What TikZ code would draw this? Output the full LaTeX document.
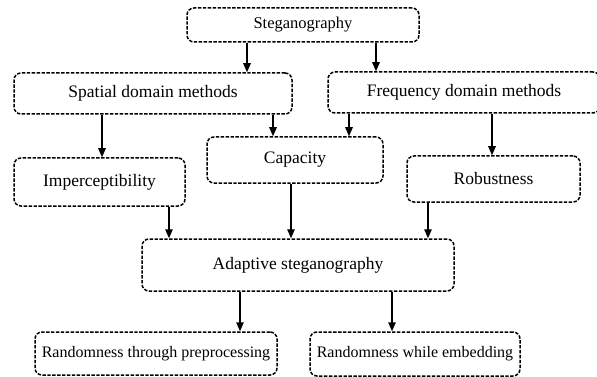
\documentclass[tikz,border=0pt]{standalone}
\usepackage{fontspec}
\setmainfont{Liberation Serif}
\usetikzlibrary{arrows.meta}
\tikzset{
  box/.style={draw=black, line width=1.5pt, dash pattern=on 3.4pt off 1.5pt,
    rounded corners=7pt, inner sep=0pt, align=center, font=\fontsize{17.5}{20}\selectfont},
  smallbox/.style={box, font=\fontsize{16}{19}\selectfont},
  arr/.style={line width=1.3pt, -{Triangle[length=9pt,width=7.5pt]}}
}
\begin{document}
\begin{tikzpicture}[x=1pt,y=-1pt]
\useasboundingbox (0,0) rectangle (597,377);
% boxes
\node[box, font=\fontsize{16.5}{19}\selectfont, minimum width=232pt, minimum height=34pt] (steg) at (303,25) {Steganography};
\node[box, minimum width=278pt, minimum height=41pt] (spatial) at (153,93.5) {Spatial domain methods};
\node[box, minimum width=272pt, minimum height=41pt] (freq) at (464,92.5) {Frequency domain methods};
\node[box, minimum width=171pt, minimum height=48pt] (imp) at (99.5,182) {Imperceptibility};
\node[box, minimum width=176pt, minimum height=46pt] (cap) at (295,160) {Capacity};
\node[box, minimum width=173pt, minimum height=46pt] (rob) at (493.5,179) {Robustness};
\node[box, minimum width=312pt, minimum height=52pt] (adap) at (298,265) {Adaptive steganography};
\node[smallbox, minimum width=242pt, minimum height=43pt] (r1) at (156,353.5) {Randomness through preprocessing};
\node[smallbox, minimum width=210pt, minimum height=44pt] (r2) at (415,354) {Randomness while embedding};
% connector x positions
\coordinate (xa) at (247,0);
\coordinate (xb) at (376,0);
\coordinate (xc) at (102,0);
\coordinate (xd) at (273,0);
\coordinate (xe) at (349,0);
\coordinate (xf) at (492,0);
\coordinate (xg) at (169,0);
\coordinate (xh) at (291,0);
\coordinate (xi) at (428,0);
\coordinate (xj) at (240,0);
\coordinate (xk) at (392,0);
% connectors
\draw[arr] (steg.south -| xa) -- (spatial.north -| xa);
\draw[arr] (steg.south -| xb) -- (freq.north -| xb);
\draw[arr] (spatial.south -| xc) -- (imp.north -| xc);
\draw[arr] (spatial.south -| xd) -- (cap.north -| xd);
\draw[arr] (freq.south -| xe) -- (cap.north -| xe);
\draw[arr] (freq.south -| xf) -- (rob.north -| xf);
\draw[arr] (imp.south -| xg) -- (adap.north -| xg);
\draw[arr] (cap.south -| xh) -- (adap.north -| xh);
\draw[arr] (rob.south -| xi) -- (adap.north -| xi);
\draw[arr] (adap.south -| xj) -- (r1.north -| xj);
\draw[arr] (adap.south -| xk) -- (r2.north -| xk);
\end{tikzpicture}
\end{document}
